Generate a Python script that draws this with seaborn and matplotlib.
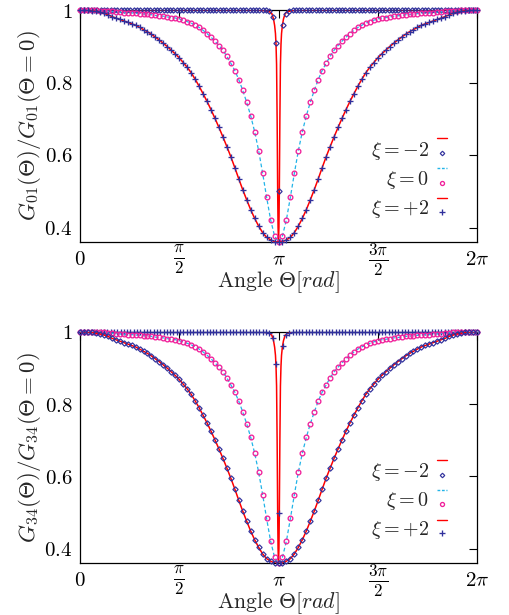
import numpy as np
import matplotlib
matplotlib.use("Agg")
import matplotlib.pyplot as plt
import seaborn as sns

# ---------------- data ----------------
# sampling grid of the wide / medium curves (degrees, 3.6 deg step, 0..360)
grid_deg = np.linspace(0.0, 360.0, 101)

g01_wide = [1.000, 1.000, 0.999, 0.998, 0.996, 0.994, 0.991, 0.987, 0.982, 0.978,
            0.974, 0.970, 0.966, 0.962, 0.958, 0.952, 0.946, 0.940, 0.933, 0.925,
            0.917, 0.908, 0.899, 0.889, 0.879, 0.868, 0.855, 0.842, 0.827, 0.809,
            0.790, 0.769, 0.748, 0.725, 0.701, 0.676, 0.650, 0.623, 0.595, 0.565,
            0.534, 0.504, 0.476, 0.449, 0.425, 0.404, 0.386, 0.373, 0.366, 0.361,
            0.360,
            0.361, 0.366, 0.373, 0.386, 0.404, 0.425, 0.449, 0.476, 0.504, 0.534,
            0.565, 0.595, 0.623, 0.650, 0.676, 0.701, 0.725, 0.748, 0.769, 0.790,
            0.809, 0.827, 0.842, 0.855, 0.868, 0.879, 0.889, 0.899, 0.908, 0.917,
            0.925, 0.933, 0.940, 0.946, 0.952, 0.958, 0.962, 0.966, 0.970, 0.974,
            0.978, 0.982, 0.987, 0.991, 0.994, 0.996, 0.998, 0.999, 1.000, 1.000]

g01_medium = [1.000, 1.000, 0.999, 0.999, 0.999, 0.998, 0.998, 0.997, 0.996, 0.995,
              0.994, 0.993, 0.992, 0.992, 0.991, 0.990, 0.989, 0.988, 0.987, 0.985,
              0.984, 0.983, 0.981, 0.979, 0.978, 0.975, 0.972, 0.968, 0.964, 0.958,
              0.952, 0.944, 0.935, 0.925, 0.914, 0.902, 0.889, 0.872, 0.853, 0.833,
              0.808, 0.778, 0.745, 0.708, 0.664, 0.612, 0.550, 0.484, 0.422, 0.377,
              0.360,
              0.377, 0.422, 0.484, 0.550, 0.612, 0.664, 0.708, 0.745, 0.778, 0.808,
              0.833, 0.853, 0.872, 0.889, 0.902, 0.914, 0.925, 0.935, 0.944, 0.952,
              0.958, 0.964, 0.968, 0.972, 0.975, 0.978, 0.979, 0.981, 0.983, 0.984,
              0.985, 0.987, 0.988, 0.989, 0.990, 0.991, 0.992, 0.992, 0.993, 0.994,
              0.995, 0.996, 0.997, 0.998, 0.998, 0.999, 0.999, 0.999, 1.000, 1.000]

# narrow curve: sampled points (3 deg step) and its continuous line
narrow_pts_deg = np.arange(0.75, 360.0, 3.0)
g01_narrow_pts = [1.0] * 57 + [0.996, 0.982, 0.910, 0.500, 0.960, 0.990, 0.997] + [1.0] * 56

narrow_line_deg = [0, 160, 168, 172, 174, 175.5, 176.5, 177.25, 177.75, 178.25, 178.75,
                   179.25, 179.6, 180, 180.4, 180.75, 181.25, 181.75, 182.25, 182.75,
                   183.5, 184.5, 186, 188, 192, 200, 360]
g01_narrow_line = [1.0, 1.0, 0.998, 0.995, 0.99, 0.975, 0.957, 0.935, 0.905, 0.85, 0.70,
                   0.50, 0.40, 0.36, 0.40, 0.50, 0.70, 0.85, 0.905, 0.935,
                   0.957, 0.975, 0.99, 0.995, 0.998, 1.0, 1.0]

# second panel (G34) – curves read identical to G01 within pixel accuracy
g34_wide = list(g01_wide)
g34_medium = list(g01_medium)
g34_narrow_pts = list(g01_narrow_pts)
g34_narrow_line = list(g01_narrow_line)

xtick_vals = [0, np.pi / 2, np.pi, 3 * np.pi / 2, 2 * np.pi]
xtick_labels = [r"$0$", r"$\frac{\pi}{2}$", r"$\pi$", r"$\frac{3\pi}{2}$", r"$2\pi$"]
ytick_vals = [0.4, 0.6, 0.8, 1.0]
ytick_labels = [r"$0.4$", r"$0.6$", r"$0.8$", r"$1$"]
legend_labels = [r"$\xi=-2$", r"$\xi=0$", r"$\xi=+2$"]

# ---------------- style ----------------
sns.set_style("white")
plt.rcParams["font.family"] = ["DejaVu Serif"]
plt.rcParams["mathtext.fontset"] = "cm"
plt.rcParams["axes.linewidth"] = 0.9
plt.rcParams["axes.edgecolor"] = "black"

RED = "#ff0000"
CYAN = "#22b4e8"
MAGENTA = "#f0209a"
BLUE = "#30309c"

marker_style = {
    "D": dict(marker="D", markersize=2.7, markerfacecolor="none", markeredgecolor=BLUE, markeredgewidth=0.85),
    "o": dict(marker="o", markersize=3.4, markerfacecolor="none", markeredgecolor=MAGENTA, markeredgewidth=0.95),
    "+": dict(marker="+", markersize=4.3, markerfacecolor=BLUE, markeredgecolor=BLUE, markeredgewidth=0.95),
}

fig = plt.figure(figsize=(5.09, 6.15), dpi=100)
W, H = 509.0, 615.0
ax1 = fig.add_axes([80 / W, 1 - 242 / H, 397 / W, 232 / H])
ax2 = fig.add_axes([80 / W, 1 - 563.3 / H, 397 / W, 231.6 / H])


def points(ax, xdeg, yvals, mk, z):
    sns.lineplot(x=np.deg2rad(xdeg), y=yvals, ax=ax, estimator=None, sort=False,
                 linestyle="", clip_on=False, zorder=z, color=marker_style[mk]["markeredgecolor"],
                 **marker_style[mk])


def line(ax, xdeg, yvals, color, z, dashed=False):
    kw = dict(dashes=(3, 2)) if dashed else {}
    sns.lineplot(x=np.deg2rad(xdeg), y=yvals, ax=ax, estimator=None, sort=False,
                 color=color, linewidth=1.1 if not dashed else 0.9, zorder=z, **kw)


def panel(ax, narrow_line_v, narrow_pts_v, medium_v, wide_v, m_narrow, m_wide, ylabel,
          leg_markers):
    line(ax, narrow_line_deg, narrow_line_v, RED, 2)
    points(ax, narrow_pts_deg, narrow_pts_v, m_narrow, 3)
    line(ax, grid_deg, medium_v, CYAN, 4, dashed=True)
    points(ax, grid_deg, medium_v, "o", 5)
    line(ax, grid_deg, wide_v, RED, 6)
    points(ax, grid_deg, wide_v, m_wide, 7)

    ax.set_xlim(0, 2 * np.pi)
    ax.set_ylim(0.36, 1.0)
    ax.set_xticks(xtick_vals)
    ax.set_xticklabels(xtick_labels)
    ax.set_yticks(ytick_vals)
    ax.set_yticklabels(ytick_labels)
    ax.tick_params(axis="both", direction="in", length=6, width=0.8, top=True, right=True,
                   labelsize=15, colors="black")
    ax.tick_params(axis="x", pad=12.5)
    ax.tick_params(axis="y", pad=5.5)
    labs = ax.get_xticklabels()
    plt.setp(labs, va="center")
    for i in (1, 3):
        labs[i].set_fontsize(17.5)
    for s in ax.spines.values():
        s.set_visible(True)
        s.set_zorder(1)
    ax.set_xlabel(r"$\mathrm{Angle}\ \Theta[rad]$", fontsize=15.7)
    ax.xaxis.set_label_coords(0.5, -0.116)
    ax.set_ylabel(ylabel, fontsize=16.5)
    ax.yaxis.set_label_coords(-0.092, 0.5)

    # legend: label, then a short line sample above a marker sample
    text_x = 0.879
    base_y = [0.371, 0.246, 0.121]
    line_y = [0.447, 0.318, 0.188]
    mark_y = [0.382, 0.256, 0.131]
    styles = [(RED, "-"), (CYAN, (0, (2, 1.2))), (RED, "-")]
    for i in range(3):
        ax.text(text_x, base_y[i], legend_labels[i], transform=ax.transAxes, ha="right",
                va="baseline", fontsize=14.5)
        c, ls = styles[i]
        ax.plot([0.899, 0.924], [line_y[i], line_y[i]], transform=ax.transAxes, color=c,
                linestyle=ls, linewidth=1.0, clip_on=False)
        ms = dict(marker_style[leg_markers[i]])
        ms["markersize"] = ms["markersize"] * 0.85
        ax.plot([0.911], [mark_y[i]], transform=ax.transAxes, linestyle="", clip_on=False, **ms)


panel(ax1, g01_narrow_line, g01_narrow_pts, g01_medium, g01_wide, "D", "+",
      r"$G_{01}(\Theta)/G_{01}(\Theta=0)$", ["D", "o", "+"])
panel(ax2, g34_narrow_line, g34_narrow_pts, g34_medium, g34_wide, "+", "D",
      r"$G_{34}(\Theta)/G_{34}(\Theta=0)$", ["D", "o", "+"])

fig.savefig("out.png", dpi=100)
